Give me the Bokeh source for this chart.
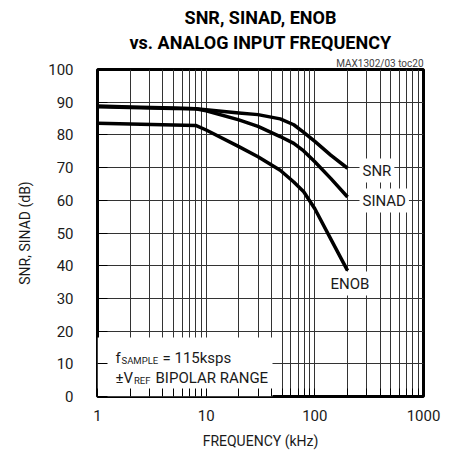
from bokeh.plotting import figure
from bokeh.models import Range1d, FixedTicker, BasicTickFormatter, Label, BoxAnnotation, Title
from bokeh.embed import file_html
from bokeh.resources import INLINE

# ---- data ----
FREQ_KHZ = [1, 2, 5, 8, 10, 20, 30, 48, 64, 79, 100, 140, 200]
SNR_DB = [88.6, 88.4, 88.1, 88.0, 87.7, 86.7, 86.2, 84.9, 83.1, 80.8, 78.0, 73.8, 69.8]
SINAD_DB = [88.8, 88.5, 88.2, 88.0, 87.4, 84.6, 82.6, 79.5, 77.4, 75.1, 71.8, 66.7, 61.0]
ENOB_DB = [83.6, 83.3, 83.0, 82.9, 81.5, 76.4, 73.3, 69.2, 65.6, 62.6, 57.4, 48.2, 38.5]

X_TICKS = [1, 10, 100, 1000]
X_MINOR = [m * d for d in (1, 10, 100) for m in range(2, 10)]
Y_TICKS = list(range(0, 101, 10))

FONT = "Roboto"

# page pixel -> data helpers (frame: left 97, bottom 396 on page)
def dx(px):
    return 10 ** ((px - 97) / (326 / 3))

def dy(py):
    return (396 - py) * 100 / 327

p = figure(width=443, height=452, x_axis_type="log",
           x_range=Range1d(1, 1000), y_range=Range1d(0, 100),
           output_backend="svg", toolbar_location=None,
           min_border_left=97, min_border_right=20,
           min_border_top=69, min_border_bottom=56)
p.background_fill_color = "white"
p.border_fill_color = "white"
p.outline_line_color = "black"
p.outline_line_width = 3

# titles: p.title is outermost; added titles stack outward from the frame
p.title.text = "SNR, SINAD, ENOB"
p.title.align = "center"
p.title.text_font = FONT
p.title.text_font_size = "18px"
p.title.text_font_style = "bold"
p.title.text_color = "black"
p.title.standoff = 0
p.add_layout(Title(text="MAX1302/03 toc20", align="right", text_font=FONT,
                   text_font_size="10px", text_font_style="normal",
                   text_color="#444444", standoff=2), "above")
p.add_layout(Title(text="vs. ANALOG INPUT FREQUENCY", align="center", text_font=FONT,
                   text_font_size="18px", text_font_style="bold", text_color="black",
                   standoff=4), "above")

p.xaxis.ticker = FixedTicker(ticks=X_TICKS, minor_ticks=X_MINOR)
p.yaxis.ticker = FixedTicker(ticks=Y_TICKS)
p.xaxis.formatter = BasicTickFormatter()
p.yaxis.formatter = BasicTickFormatter()

for ax in (p.xaxis[0], p.yaxis[0]):
    ax.axis_line_color = None
    ax.major_tick_out = 0
    ax.minor_tick_out = 0
    ax.major_tick_line_color = "black"
    ax.minor_tick_line_color = "black"
    ax.major_label_text_font = FONT
    ax.major_label_text_font_size = "15px"
    ax.major_label_text_color = "#1a1a1a"
    ax.axis_label_text_font = FONT
    ax.axis_label_text_font_size = "14px"
    ax.axis_label_text_font_style = "normal"
    ax.axis_label_text_color = "#1a1a1a"
p.xaxis.major_tick_in = 8
p.xaxis.minor_tick_in = 8
p.yaxis.major_tick_in = 10
p.yaxis.minor_tick_line_color = None
p.xaxis.major_label_standoff = 13
p.yaxis.major_label_standoff = 24
p.xaxis.axis_label = "FREQUENCY (kHz)"
p.yaxis.axis_label = "SNR, SINAD (dB)"
p.xaxis.axis_label_standoff = 9
p.yaxis.axis_label_standoff = 12

p.xgrid.grid_line_color = "#333333"
p.xgrid.minor_grid_line_color = "#333333"
p.ygrid.grid_line_color = "#333333"
p.xgrid.grid_line_width = 1
p.ygrid.grid_line_width = 1

# white box behind the conditions note
p.add_layout(BoxAnnotation(left=1, right=dx(272), bottom=0, top=dy(337),
                           fill_color="white", fill_alpha=1, line_color=None,
                           level="underlay"))

for ys in (SNR_DB, SINAD_DB, ENOB_DB):
    p.line(FREQ_KHZ, ys, line_color="black", line_width=3.5, line_join="round")

def lab(text, px, py, size, align="left", baseline="alphabetic", bg=None):
    kw = {}
    if bg:
        kw = dict(background_fill_color=bg, padding=3)
    p.add_layout(Label(x=dx(px), y=dy(py), text=text, text_font=FONT,
                       text_font_size=f"{size}px", text_align=align,
                       text_baseline=baseline, text_color="#1a1a1a", **kw))

# curve labels
lab("SNR", 359, 170, 15, baseline="middle", bg="white")
lab("SINAD", 359, 200, 15, baseline="middle", bg="white")
lab("ENOB", 327, 283, 15, baseline="middle", bg="white")

# conditions note
lab("f", 115, 357, 15)
lab("SAMPLE", 121, 360, 9.5)
lab("= 115ksps", 162, 357, 15)
lab("\u00b1V", 115, 377, 15)
lab("REF", 133.5, 380, 9.5)
lab("BIPOLAR RANGE", 155, 377, 15)

open("out.html", "w").write(file_html(p, INLINE))
